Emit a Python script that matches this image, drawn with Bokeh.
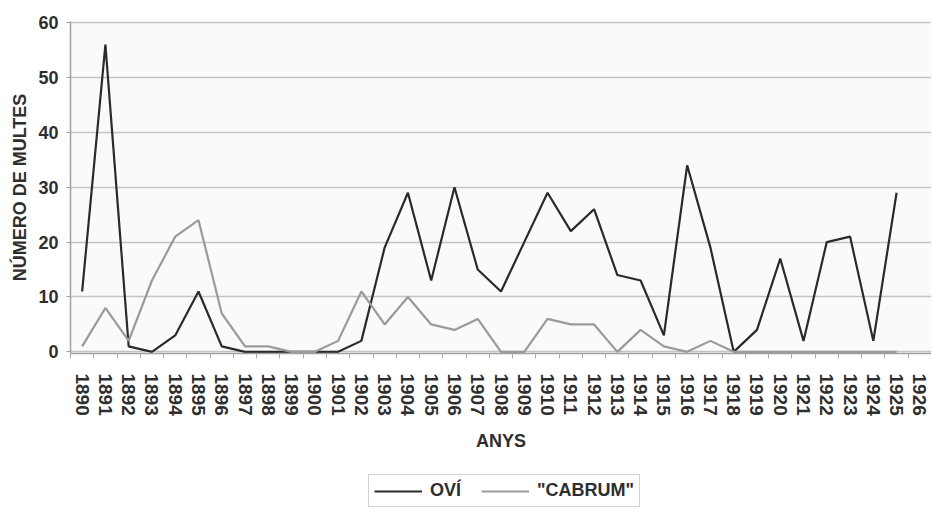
from bokeh.plotting import figure
from bokeh.layouts import column
from bokeh.models import Range1d, FixedTicker, Legend, LegendItem
from bokeh.embed import file_html
from bokeh.resources import INLINE

years = list(range(1890, 1926))
tick_years = list(range(1890, 1927))
tick_labels = [str(y) for y in tick_years]
ovi = [11, 56, 1, 0, 3, 11, 1, 0, 0, 0, 0, 0, 2, 19, 29, 13, 30, 15, 11, 20,
       29, 22, 26, 14, 13, 3, 34, 19, 0, 4, 17, 2, 20, 21, 2, 29]
cabrum = [1, 8, 2, 13, 21, 24, 7, 1, 1, 0, 0, 2, 11, 5, 10, 5, 4, 6, 0, 0,
          6, 5, 5, 0, 4, 1, 0, 2, 0, 0, 0, 0, 0, 0, 0, 0]
y_ticks = [0, 10, 20, 30, 40, 50, 60]
series_names = ["OVÍ", '"CABRUM"']
series_colors = ["#2a2a2a", "#9a9a9a"]

FONT = "Liberation Sans"
TXT = "#2e2e2e"

p = figure(width=931, height=467, output_backend="svg", toolbar_location=None,
           x_range=Range1d(tick_years[0] - 0.5, tick_years[-1] + 0.5),
           y_range=Range1d(-0.3, 60.2),
           min_border_top=21, min_border_right=0, min_border_left=70,
           min_border_bottom=114,
           background_fill_color="#fafafa", border_fill_color="white")
p.outline_line_color = None

# grid
p.xgrid.grid_line_color = None
p.ygrid.grid_line_color = "#c4c4c4"
p.ygrid.grid_line_width = 1.5
p.ygrid.ticker = FixedTicker(ticks=y_ticks)

# y axis
p.yaxis.ticker = FixedTicker(ticks=y_ticks)
p.yaxis.axis_label = "NÚMERO DE MULTES"
p.yaxis.axis_label_text_font = FONT
p.yaxis.axis_label_text_font_style = "bold"
p.yaxis.axis_label_text_font_size = "18px"
p.yaxis.axis_label_text_color = TXT
p.yaxis.axis_label_standoff = 5
p.yaxis.major_label_text_font = FONT
p.yaxis.major_label_text_font_style = "bold"
p.yaxis.major_label_text_font_size = "18px"
p.yaxis.major_label_text_color = TXT
p.yaxis.major_label_standoff = 8
p.yaxis.axis_line_color = "#a0a0a0"
p.yaxis.axis_line_width = 1.5
p.yaxis.major_tick_line_color = "#a0a0a0"
p.yaxis.major_tick_in = 0
p.yaxis.major_tick_out = 4
p.yaxis.minor_tick_line_color = None

# x axis
p.xaxis.ticker = FixedTicker(ticks=tick_years,
                             minor_ticks=[y - 0.5 for y in tick_years] + [tick_years[-1] + 0.5])
p.xaxis.major_label_overrides = {y: s for y, s in zip(tick_years, tick_labels)}
p.xaxis.major_label_orientation = "vertical"
p.xaxis.major_label_text_font = FONT
p.xaxis.major_label_text_font_style = "bold"
p.xaxis.major_label_text_font_size = "19px"
p.xaxis.major_label_text_color = TXT
p.xaxis.major_label_standoff = 15
p.xaxis.major_tick_out = 0
p.xaxis.major_tick_in = 0
p.xaxis.minor_tick_out = 5
p.xaxis.minor_tick_in = 0
p.xaxis.minor_tick_line_color = "#b0b0b0"
p.xaxis.axis_line_color = "#a0a0a0"
p.xaxis.axis_line_width = 1.5
p.xaxis.axis_label = "ANYS"
p.xaxis.axis_label_text_font = FONT
p.xaxis.axis_label_text_font_style = "bold"
p.xaxis.axis_label_text_font_size = "18px"
p.xaxis.axis_label_text_color = TXT
p.xaxis.axis_label_standoff = 12

p.line(years, ovi, line_color=series_colors[0], line_width=2.2)
p.line(years, cabrum, line_color=series_colors[1], line_width=2.2)

# legend strip (separate figure so the legend sits below the axis title)
lg = figure(width=931, height=40, output_backend="svg", toolbar_location=None,
            x_range=Range1d(0, 1), y_range=Range1d(0, 1),
            x_axis_type=None, y_axis_type=None,
            min_border_top=0, min_border_bottom=0, min_border_left=0, min_border_right=0,
            border_fill_color="white", background_fill_color="white")
lg.outline_line_color = None
lg.grid.grid_line_color = None
# legend keys only: points lie outside the visible range
d1 = lg.line([-5, -4], [-5, -4], line_color=series_colors[0], line_width=2.2)
d2 = lg.line([-5, -4], [-5, -4], line_color=series_colors[1], line_width=2.2)

legend = Legend(items=[LegendItem(label=series_names[0], renderers=[d1]),
                       LegendItem(label=series_names[1], renderers=[d2])],
                orientation="horizontal", location=(298, 0),
                glyph_width=48, glyph_height=20, label_standoff=8, spacing=20,
                padding=5, margin=0,
                label_text_font=FONT, label_text_font_style="bold",
                label_text_font_size="18px", label_text_color=TXT,
                border_line_color="#a8a8a8", border_line_width=1.5,
                background_fill_color="white")
lg.add_layout(legend, "center")

page = column(p, lg, spacing=0)
open("out.html", "w").write(file_html(page, INLINE))
